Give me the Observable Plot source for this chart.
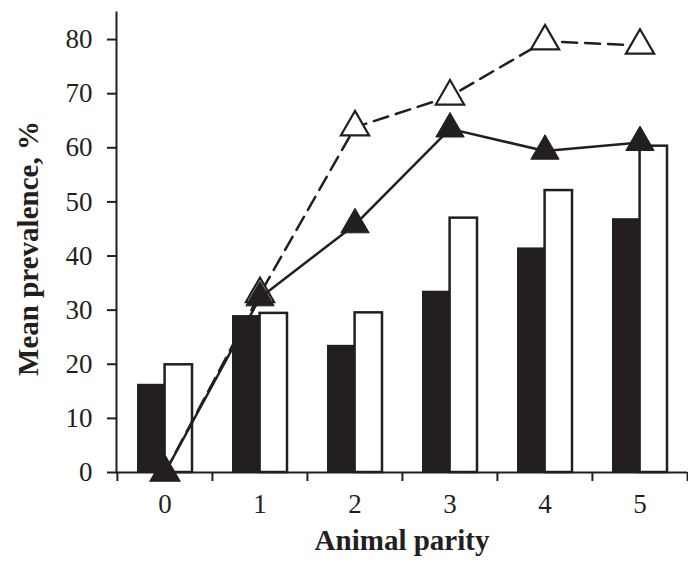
<!DOCTYPE html>
<html>
<head>
<meta charset="utf-8">
<script src="https://cdn.jsdelivr.net/npm/d3@7"></script>
<script src="https://cdn.jsdelivr.net/npm/@observablehq/plot@0.6"></script>
<style>
  html, body { margin: 0; padding: 0; background: white; }
</style>
</head>
<body>
<div id="chart"></div>
<script>
const categories = ["0", "1", "2", "3", "4", "5"];
const barDark = [16.3, 29.0, 23.5, 33.5, 41.5, 46.9];
const barLight = [19.9, 29.4, 29.5, 47.0, 52.1, 60.3];
const lineSolid = [0, 32.3, 45.8, 63.5, 59.4, 61.0];
const lineDashed = [0, 33.0, 63.8, 69.5, 79.7, 78.9];
const yTicks = [0, 10, 20, 30, 40, 50, 60, 70, 80];
const xTitle = "Animal parity";
const yTitle = "Mean prevalence, %";

const ink = "#231f20";
const W = 688, H = 564, ML = 116, MR = 1, MT = 12, MB = 92;
const bw = (W - ML - MR) / categories.length;

const rows = (vals) => categories.map((c, i) => ({cat: c, v: vals[i]}));
const dark = rows(barDark), light = rows(barLight);
const solid = rows(lineSolid), dashed = rows(lineDashed);

const chart = Plot.plot({
  width: W, height: H,
  marginLeft: ML, marginRight: MR, marginTop: MT, marginBottom: MB,
  style: {fontFamily: "'Liberation Serif', 'Times New Roman', serif", fontSize: "27px", color: ink, background: "white", overflow: "visible"},
  x: {type: "band", domain: categories, padding: 0, label: null},
  y: {domain: [0, 85], label: null},
  marks: [
    Plot.barY(dark, {x: "cat", y: "v", fill: ink, insetLeft: 20, insetRight: bw - 47.6}),
    Plot.barY(light, {x: "cat", y: "v", fill: "white", stroke: ink, strokeWidth: 2.5, insetLeft: 47.6, insetRight: 20}),
    Plot.ruleY([0], {stroke: ink, strokeWidth: 2}),
    Plot.frame({anchor: "left", stroke: ink, strokeWidth: 2}),
    Plot.axisY({ticks: yTicks, tickSize: 9, tickFormat: () => "", stroke: ink, strokeWidth: 2, label: null}),
    Plot.axisY({ticks: yTicks, tickSize: 0, tickPadding: 24, fill: ink, fontSize: 27, label: null}),
    Plot.axisX({ticks: categories, tickSize: 9, tickFormat: () => "", dx: -bw / 2, stroke: ink, strokeWidth: 2, label: null}),
    Plot.axisX({ticks: [categories[categories.length - 1]], tickSize: 9, tickFormat: () => "", dx: bw / 2, stroke: ink, strokeWidth: 2, label: null}),
    Plot.axisX({ticks: categories, tickSize: 0, tickPadding: 21, fill: ink, fontSize: 27, label: null}),
    Plot.line(dashed, {x: "cat", y: "v", stroke: ink, strokeWidth: 2.5, strokeDasharray: "15,8"}),
    Plot.dot(dashed, {x: "cat", y: "v", symbol: "triangle", r: 10.5, fill: "white", stroke: ink, strokeWidth: 2.2}),
    Plot.line(solid, {x: "cat", y: "v", stroke: ink, strokeWidth: 2.5}),
    Plot.dot(solid, {x: "cat", y: "v", symbol: "triangle", r: 10.5, fill: ink, stroke: ink, strokeWidth: 1}),
    Plot.text([xTitle], {text: d => d, frameAnchor: "bottom", dy: 77, fontWeight: "bold", fontSize: 29, fill: ink}),
    Plot.text([yTitle], {text: d => d, frameAnchor: "left", textAnchor: "middle", rotate: -90, dx: -88, dy: 6, fontWeight: "bold", fontSize: 29, fill: ink})
  ]
});
document.getElementById("chart").appendChild(chart);
</script>
</body>
</html>
